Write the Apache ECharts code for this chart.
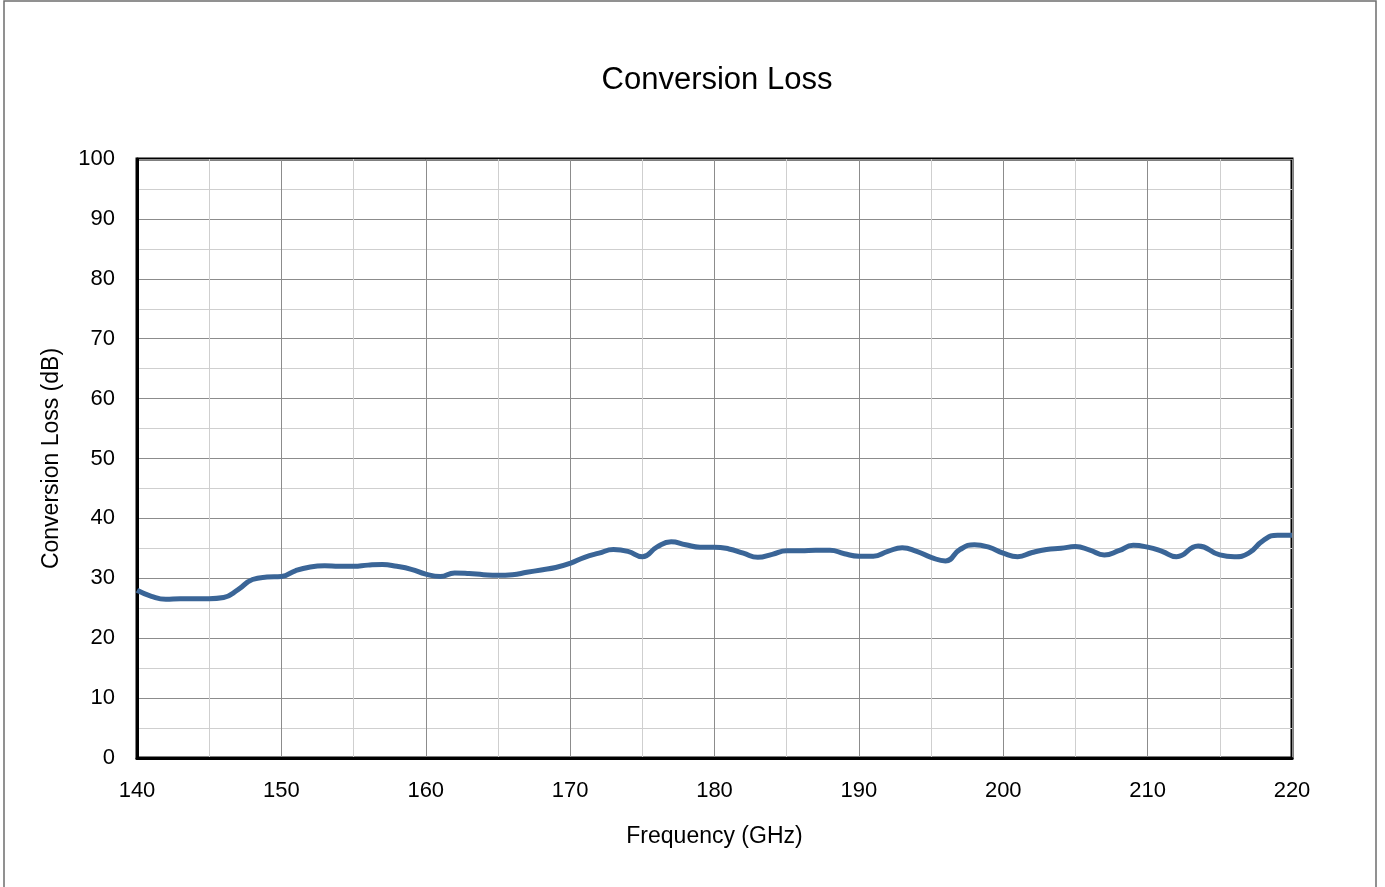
<!DOCTYPE html>
<html>
<head>
<meta charset="utf-8">
<script src="https://cdn.jsdelivr.net/npm/echarts@6/dist/echarts.min.js"></script>
<style>
  html, body { margin: 0; padding: 0; background: #fff; }
  #chart { width: 1385px; height: 887px; }
</style>
</head>
<body>
<div id="chart"></div>
<script>
// frequency (GHz) and conversion loss (dB)
var freq = [140, 141, 142, 143, 144, 145, 146, 147, 148, 149,
            150, 151, 152, 153, 154, 155, 156, 157, 158, 159,
            160, 161, 162, 163, 164, 165, 166, 167, 168, 169,
            170, 171, 172, 173, 174, 175, 176, 177, 178, 179,
            180, 181, 182, 183, 184, 185, 186, 187, 188, 189,
            190, 191, 192, 193, 194, 195, 196, 197, 198, 199,
            200, 201, 202, 203, 204, 205, 206, 207, 208, 209,
            210, 211, 212, 213.5, 215, 216, 217, 218, 219, 220];
var loss = [28.0, 27.0, 26.5, 26.6, 26.6, 26.6, 26.8, 28.1, 29.8, 30.2,
            30.3, 31.3, 31.9, 32.1, 32.0, 32.0, 32.2, 32.3, 32.0, 31.5,
            30.7, 30.3, 30.9, 30.8, 30.6, 30.5, 30.6, 31.0, 31.4, 31.8,
            32.5, 33.5, 34.2, 34.8, 34.5, 33.6, 35.2, 36.1, 35.6, 35.2,
            35.2, 34.9, 34.2, 33.5, 34.0, 34.6, 34.6, 34.7, 34.7, 34.1,
            33.7, 33.7, 34.5, 35.1, 34.5, 33.5, 32.9, 34.8, 35.6, 35.2,
            34.2, 33.6, 34.3, 34.8, 35.0, 35.3, 34.7, 33.9, 34.6, 35.5,
            35.2, 34.5, 33.6, 35.4, 33.9, 33.6, 34.2, 36.3, 37.2, 37.2];

var chart = echarts.init(document.getElementById('chart'));
var font = 'Liberation Sans, Arial, sans-serif';

var points = freq.map(function (f, i) { return [f, loss[i]]; });

option = {
    backgroundColor: '#fff',
    animation: false,
    textStyle: { fontFamily: font },
    title: {
        text: 'Conversion Loss',
        left: 712,
        textAlign: 'center',
        top: 60,
        textStyle: {
            fontFamily: font,
            fontWeight: 'normal',
            fontSize: 31,
            color: '#000'
        }
    },
    graphic: [{
        type: 'rect',
        shape: { x: 4, y: 1, width: 1372, height: 900 },
        style: { fill: 'none', stroke: '#6e6e6e', lineWidth: 1.5 },
        silent: true
    }],
    grid: {
        left: 137,
        top: 159,
        right: 93,
        bottom: 129,
        show: true,
        borderColor: '#000',
        borderWidth: 3,
        backgroundColor: 'transparent'
    },
    xAxis: {
        type: 'value',
        min: 140,
        max: 220,
        interval: 10,
        name: 'Frequency (GHz)',
        nameLocation: 'middle',
        nameGap: 67,
        nameTextStyle: { fontFamily: font, fontSize: 23, color: '#000' },
        axisLine: { lineStyle: { color: '#000', width: 3 } },
        axisTick: { show: false },
        axisLabel: { fontFamily: font, fontSize: 22, color: '#000', margin: 22 },
        splitLine: { show: true, lineStyle: { color: '#8c8c8c', width: 1 } },
        minorTick: { show: false, splitNumber: 2 },
        minorSplitLine: { show: true, lineStyle: { color: '#cfcfcf', width: 1 } }
    },
    yAxis: {
        type: 'value',
        min: 0,
        max: 100,
        interval: 10,
        name: 'Conversion Loss (dB)',
        nameLocation: 'middle',
        nameGap: 74,
        nameTextStyle: { fontFamily: font, fontSize: 23, color: '#000' },
        axisLine: { show: true, lineStyle: { color: '#000', width: 3 } },
        axisTick: { show: false },
        axisLabel: { fontFamily: font, fontSize: 22, color: '#000', margin: 22 },
        splitLine: { show: true, lineStyle: { color: '#8c8c8c', width: 1 } },
        minorTick: { show: false, splitNumber: 2 },
        minorSplitLine: { show: true, lineStyle: { color: '#cfcfcf', width: 1 } }
    },
    series: [{
        name: 'Conversion Loss',
        type: 'line',
        smooth: 0.5,
        showSymbol: false,
        lineStyle: { color: '#3a6597', width: 5 },
        itemStyle: { color: '#3a6597' },
        data: points
    }]
};

chart.setOption(option);
</script>
</body>
</html>
